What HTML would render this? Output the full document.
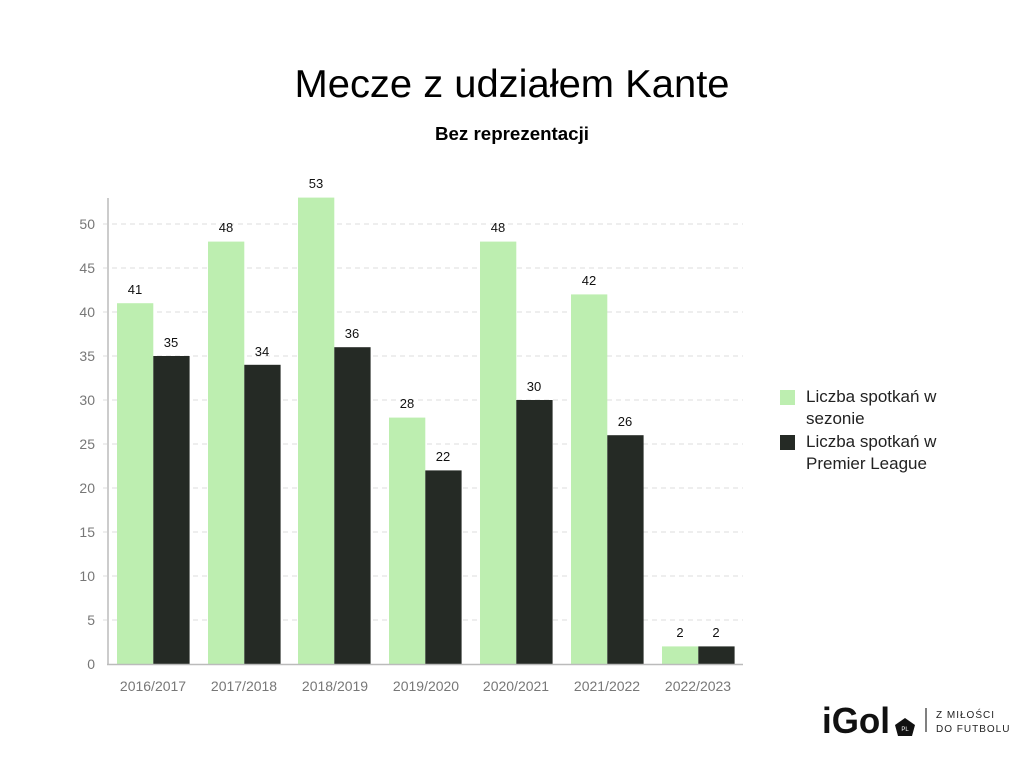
<!DOCTYPE html>
<html><head><meta charset="utf-8"><style>
body{margin:0;background:#fff;}
svg{display:block;font-family:"Liberation Sans",sans-serif;}
</style></head><body>
<svg width="1024" height="768" viewBox="0 0 1024 768">
<rect width="1024" height="768" fill="#fff"/>
<text x="512" y="97" text-anchor="middle" font-size="39" textLength="435" lengthAdjust="spacingAndGlyphs" fill="#000">Mecze z udziałem Kante</text>
<text x="512" y="140" text-anchor="middle" font-size="18" font-weight="bold" textLength="154" lengthAdjust="spacingAndGlyphs" fill="#000">Bez reprezentacji</text>
<g stroke="#ddd" stroke-dasharray="5,4" stroke-width="1">
<line x1="103" x2="743" y1="224" y2="224"/><line x1="103" x2="743" y1="268" y2="268"/>
<line x1="103" x2="743" y1="312" y2="312"/><line x1="103" x2="743" y1="356" y2="356"/>
<line x1="103" x2="743" y1="400" y2="400"/><line x1="103" x2="743" y1="444" y2="444"/>
<line x1="103" x2="743" y1="488" y2="488"/><line x1="103" x2="743" y1="532" y2="532"/>
<line x1="103" x2="743" y1="576" y2="576"/><line x1="103" x2="743" y1="620" y2="620"/>
</g>
<g font-size="14" fill="#777" text-anchor="end">
<text x="95" y="229">50</text><text x="95" y="273">45</text><text x="95" y="317">40</text>
<text x="95" y="361">35</text><text x="95" y="405">30</text><text x="95" y="449">25</text>
<text x="95" y="493">20</text><text x="95" y="537">15</text><text x="95" y="581">10</text>
<text x="95" y="625">5</text><text x="95" y="669">0</text>
</g>
<g fill="#bdeeb0">
<rect x="117" y="303.2" width="36.3" height="360.8"/>
<rect x="208" y="241.6" width="36.3" height="422.4"/>
<rect x="298" y="197.6" width="36.3" height="466.4"/>
<rect x="389" y="417.6" width="36.3" height="246.4"/>
<rect x="480" y="241.6" width="36.3" height="422.4"/>
<rect x="571" y="294.4" width="36.3" height="369.6"/>
<rect x="662" y="646.4" width="36.3" height="17.6"/>
</g>
<g fill="#252a25">
<rect x="153.3" y="356" width="36.3" height="308"/>
<rect x="244.3" y="364.8" width="36.3" height="299.2"/>
<rect x="334.3" y="347.2" width="36.3" height="316.8"/>
<rect x="425.3" y="470.4" width="36.3" height="193.6"/>
<rect x="516.3" y="400" width="36.3" height="264"/>
<rect x="607.3" y="435.2" width="36.3" height="228.8"/>
<rect x="698.3" y="646.4" width="36.3" height="17.6"/>
</g>
<g font-size="13" fill="#111" text-anchor="middle">
<text x="135" y="294">41</text><text x="171" y="347">35</text>
<text x="226" y="232">48</text><text x="262" y="356">34</text>
<text x="316" y="188">53</text><text x="352" y="338">36</text>
<text x="407" y="408">28</text><text x="443" y="461">22</text>
<text x="498" y="232">48</text><text x="534" y="391">30</text>
<text x="589" y="285">42</text><text x="625" y="426">26</text>
<text x="680" y="637">2</text><text x="716" y="637">2</text>
</g>
<line x1="108" y1="198" x2="108" y2="665" stroke="#ccc" stroke-width="2"/>
<line x1="107" y1="664.5" x2="743" y2="664.5" stroke="#bbb" stroke-width="1.5"/>
<g font-size="14" fill="#777" text-anchor="middle">
<text x="153" y="691">2016/2017</text><text x="244" y="691">2017/2018</text>
<text x="335" y="691">2018/2019</text><text x="426" y="691">2019/2020</text>
<text x="516" y="691">2020/2021</text><text x="607" y="691">2021/2022</text>
<text x="698" y="691">2022/2023</text>
</g>
<rect x="780" y="390" width="15" height="15" fill="#bdeeb0"/>
<rect x="780" y="435" width="15" height="15" fill="#252a25"/>
<g font-size="17" fill="#222">
<text x="806" y="402">Liczba spotkań w</text><text x="806" y="424">sezonie</text>
<text x="806" y="447">Liczba spotkań w</text><text x="806" y="469">Premier League</text>
</g>
<text x="822" y="733" font-size="36" font-weight="bold" fill="#111" textLength="68" lengthAdjust="spacingAndGlyphs">iGol</text>
<path d="M905 718 l10 7 l-3 11 h-14 l-3 -11z" fill="#111"/>
<text x="905" y="731" font-size="6" fill="#fff" text-anchor="middle">PL</text>
<line x1="926" y1="708" x2="926" y2="732" stroke="#555" stroke-width="1.5"/>
<g font-size="10" fill="#222" letter-spacing="1">
<text x="936" y="718">Z MIŁOŚCI</text><text x="936" y="732">DO FUTBOLU</text>
</g>
</svg>
</body></html>
